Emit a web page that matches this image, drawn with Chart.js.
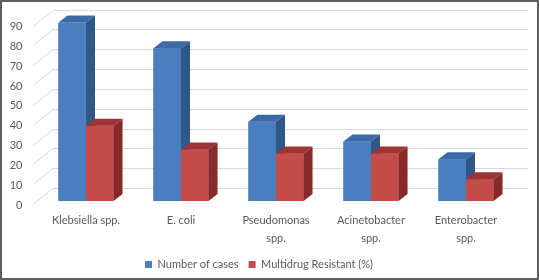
<!DOCTYPE html>
<html>
<head>
<meta charset="utf-8">
<script src="https://cdn.jsdelivr.net/npm/chart.js@4/dist/chart.umd.min.js"></script>
<style>
  html, body { margin: 0; padding: 0; background: #fff; }
  #wrap { position: relative; width: 539px; height: 280px; }
  #frame { position: absolute; left: 0; top: 0; width: 539px; height: 280px;
           box-sizing: border-box; border: 2px solid #5f5f5f; pointer-events: none; }
</style>
</head>
<body>
<div id="wrap">
  <canvas id="chart" width="539" height="280"></canvas>
  <div id="frame"></div>
</div>
<script>
// data
const categories = [['Klebsiella spp.'], ['E. coli'], ['Pseudomonas', 'spp.'], ['Acinetobacter', 'spp.'], ['Enterobacter', 'spp.']];
const seriesNames = ['Number of cases', 'Multidrug Resistant (%)'];
const cases = [90, 77, 40, 30, 21];
const resistant = [38, 26, 24, 24, 11];
const yTicks = [0, 10, 20, 30, 40, 50, 60, 70, 80, 90];

const faceColors = [
  { front: '#4a7ebf', top: '#3c6aa6', side: '#2f5787' },
  { front: '#c44c4a', top: '#9e3534', side: '#872a2a' }
];
const DX = 9, DY = -7;
const textColor = '#595959';
const fontFamily = 'Lato, "Liberation Sans", sans-serif';

// perspective gridlines on the back wall
const wallGrid = {
  id: 'wallGrid',
  beforeDatasetsDraw(chart) {
    const ctx = chart.ctx, y = chart.scales.y;
    ctx.save();
    ctx.strokeStyle = '#d9d9d9';
    ctx.lineWidth = 1;
    yTicks.forEach(v => {
      const py = Math.round(y.getPixelForValue(v)) + 0.5;
      ctx.beginPath();
      ctx.moveTo(33, py + 3);
      ctx.lineTo(53, py - 13);
      ctx.lineTo(528, py - 13);
      ctx.stroke();
    });
    ctx.restore();
  }
};

// 3D boxes on top of the library's bar elements
const boxes = {
  id: 'boxes',
  afterDatasetsDraw(chart) {
    const ctx = chart.ctx;
    ctx.save();
    for (let i = 0; i < categories.length; i++) {
      for (let d = 0; d < chart.data.datasets.length; d++) {
        const el = chart.getDatasetMeta(d).data[i];
        const { x, y, base, width } = el.getProps(['x', 'y', 'base', 'width'], true);
        const l = x - width / 2, r = x + width / 2;
        const c = faceColors[d];
        ctx.fillStyle = c.front;
        ctx.fillRect(l, y, width, base - y);
        ctx.fillStyle = c.top;
        ctx.beginPath();
        ctx.moveTo(l, y); ctx.lineTo(r, y); ctx.lineTo(r + DX, y + DY); ctx.lineTo(l + DX, y + DY);
        ctx.closePath(); ctx.fill();
        ctx.fillStyle = c.side;
        ctx.beginPath();
        ctx.moveTo(r, y); ctx.lineTo(r + DX, y + DY); ctx.lineTo(r + DX, base + DY); ctx.lineTo(r, base);
        ctx.closePath(); ctx.fill();
      }
    }
    ctx.restore();
  }
};

new Chart(document.getElementById('chart'), {
  type: 'bar',
  data: {
    labels: categories,
    datasets: [
      { label: seriesNames[0], data: cases, backgroundColor: faceColors[0].front },
      { label: seriesNames[1], data: resistant, backgroundColor: faceColors[1].front }
    ]
  },
  options: {
    responsive: false,
    animation: false,
    devicePixelRatio: 1,
    layout: { padding: { top: 22, right: 25.5, bottom: 0, left: 4.5 } },
    datasets: { bar: { barPercentage: 1, categoryPercentage: 0.58 } },
    scales: {
      x: {
        grid: { display: false, drawTicks: false, tickLength: 0 },
        border: { display: false },
        ticks: { color: textColor, font: { family: fontFamily, size: 11, lineHeight: 1.6 }, padding: 11, maxRotation: 0 },
        afterFit(s) { s.height = 48; }
      },
      y: {
        min: 0, max: 90,
        grid: { display: false, drawTicks: false, tickLength: 0 },
        border: { display: false },
        ticks: { stepSize: 10, color: textColor, font: { family: fontFamily, size: 11 }, padding: 16, labelOffset: 4 },
        afterFit(s) { s.width = 34; }
      }
    },
    plugins: {
      legend: {
        position: 'bottom',
        labels: { boxWidth: 7, boxHeight: 7, color: textColor, font: { family: fontFamily, size: 11 }, padding: 10 }
      },
      tooltip: { enabled: false }
    }
  },
  plugins: [wallGrid, boxes]
});
</script>
</body>
</html>
